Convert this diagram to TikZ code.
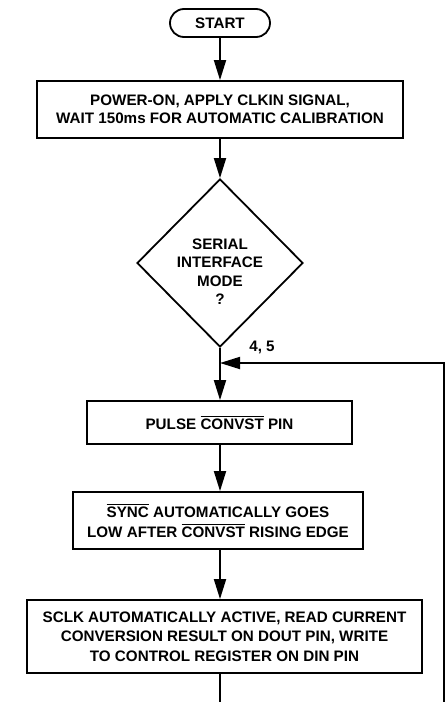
\documentclass[tikz,border=0pt]{standalone}
\usepackage{fontspec}
\setmainfont{Liberation Sans}
\usetikzlibrary{shapes.geometric,arrows.meta}
\newcommand{\ovl}[1]{\leavevmode\vbox{\hrule height 1pt\kern1.6pt\hbox{#1}}}
\begin{document}
\begin{tikzpicture}[x=1pt,y=-1pt,
  font=\fontsize{15.2}{19}\selectfont\bfseries,
  box/.style={draw, line width=1.8pt, inner sep=0pt, align=center},
  arr/.style={line width=1.8pt, -{Triangle[length=20pt,width=12pt]}},
  ln/.style={line width=1.8pt}]
\useasboundingbox (0,0) rectangle (446,702);
\node[box, rounded corners=14pt, minimum width=100pt, minimum height=28pt] (start) at (220,23) {START};
\node[box, minimum width=366pt, minimum height=57pt, font=\fontsize{15.2}{18.5}\selectfont\bfseries] (b1) at (220,109.5)
  {POWER-ON, APPLY CLKIN SIGNAL,\\WAIT 150ms FOR AUTOMATIC CALIBRATION};
\node[draw, diamond, line width=1.8pt, minimum width=166pt, minimum height=168pt, inner sep=0pt] (d) at (220,263) {};
\node[align=center, inner sep=0pt, font=\fontsize{15.2}{18.5}\selectfont\bfseries] (dt) at (220,271.5) {SERIAL\\INTERFACE\\MODE\\?};
\node[box, minimum width=265pt, minimum height=43pt] (b2) at (219.5,422.5) {PULSE \ovl{CONVST} PIN};
\node[box, minimum width=290pt, minimum height=57pt, font=\fontsize{15.2}{20}\selectfont\bfseries] (b3) at (218,520.5)
  {\ovl{SYNC} AUTOMATICALLY GOES\\LOW AFTER \ovl{CONVST} RISING EDGE};
\node[box, minimum width=395pt, minimum height=73pt, font=\fontsize{15.2}{19.5}\selectfont\bfseries] (b4) at (224.5,636.5)
  {SCLK AUTOMATICALLY ACTIVE, READ CURRENT\\CONVERSION RESULT ON DOUT PIN, WRITE\\TO CONTROL REGISTER ON DIN PIN};
\node[inner sep=0pt] (lab) at (262,347) {4, 5};
\coordinate (j) at (220,363);
\coordinate (bot) at (220,702);
\coordinate (rb) at (444,702);
\draw[arr] (start.south) -- (b1.north);
\draw[arr] (b1.south) -- (d.north);
\draw[arr] (d.south) -- (d.south |- b2.north);
\draw[arr] (d.south |- b2.south) -- (d.south |- b3.north);
\draw[arr] (d.south |- b3.south) -- (d.south |- b4.north);
\draw[ln] (d.south |- b4.south) -- (bot);
\draw[arr] (rb) |- (j);
\end{tikzpicture}
\end{document}
